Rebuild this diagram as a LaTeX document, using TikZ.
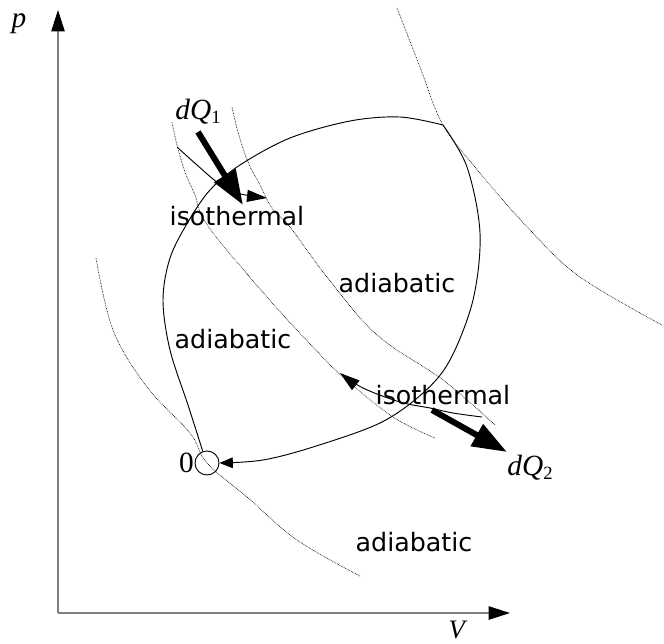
\documentclass[tikz,border=0pt]{standalone}
\usepackage{fontspec}
\setmainfont{Liberation Serif}
\newfontfamily\labelfont{DejaVu Sans}
\usetikzlibrary{arrows.meta}

\begin{document}
\begin{tikzpicture}[
		x=0.75pt, y=-0.75pt,
		% --- STYLES OF THE LINES ---
		axis/.style = {draw=black!50, line width=1pt, -{Triangle[length=16pt, width=10pt, color=black]}},
		cycleline/.style = {draw=black, line width=0.7pt},
		adiab/.style = {draw=black, dash pattern=on 0.5pt off 0.7pt, line width=0.5pt},
		heat/.style = {line width=4.5pt, -{Triangle[length=26pt, width=18pt]}},
		isoarrow/.style = {line width=0.7pt, -{Triangle[length=15pt, width=9pt]}},
		% --- STYLES OF THE TEXTS ---
		procname/.style = {font=\labelfont\fontsize{19}{19}\selectfont, inner sep=0pt},
		sym/.style = {font=\fontsize{22}{22}\selectfont, inner sep=0pt},
		state/.style = {circle, draw, line width=0.7pt, minimum size=18pt, inner sep=0pt}
		]
		
		\useasboundingbox (0,0) rectangle (664,643);
		
		% =========================================================================
		% 1. AXES
		% =========================================================================
		\coordinate (origin) at (58,613);
		\coordinate (ptop) at (58,10);
		\coordinate (vend) at (510,613);
		\draw [axis] (origin) -- (ptop);
		\draw [axis] (origin) -- (vend);
		\node [sym] (plabel) at (19,24) {\textit{p}};
		\node [sym, font=\fontsize{20}{20}\selectfont] (vlabel) at (458,630) {\textit{V}};
		
		% =========================================================================
		% 2. DOTTED CURVES
		% =========================================================================
		\draw [adiab] plot[smooth, tension=0.6] coordinates {(96,258) (113,330) (147,387) (190,433) (207,463) (247,497) (297,540) (360,576)};
		\draw [adiab] plot[smooth, tension=0.6] coordinates {(172,122) (177,145) (185,172) (195,195) (208,226) (267,297) (313,347) (343,377) (393,417) (435,438)};
		\draw [adiab] plot[smooth, tension=0.6] coordinates {(232,107) (238,132) (248,162) (260,185) (272,208) (290,227) (327,277) (377,335) (443,380) (495,425)};
		\draw [adiab] plot[smooth, tension=0.6] coordinates {(397,8) (420,67) (443,125) (480,173) (530,230) (580,277) (662,325)};
		
		% =========================================================================
		% 3. CYCLE
		% =========================================================================
		\node [state] (state0) at (207,463) {};
		\node [sym, anchor=east] (zero) at (194,463) {0};
		\coordinate (corner) at (443,125);
		
		\draw [cycleline] plot[smooth, tension=0.55] coordinates {(state0.110) (188,405) (170,350) (163,300) (170,258) (188,222) (210,190) (240,165) (290,138) (350,121) (400,117) (corner)};
		\draw [cycleline, -{Triangle[length=10pt, width=8pt]}] plot[smooth, tension=0.55] coordinates {(corner) (467,167) (480,233) (473,300) (450,360) (423,393) (380,423) (313,447) (263,460) (state0.east)};
		
		% =========================================================================
		% 4. ISOTHERMS AND HEAT
		% =========================================================================
		\draw [isoarrow] plot[smooth, tension=0.6] coordinates {(177,147) (197,165) (217,182) (237,193) (267,198)};
		\draw [isoarrow] plot[smooth, tension=0.6] coordinates {(482,417) (453,413) (430,408) (400,402) (363,388) (340,373)};
		
		\node [sym] (dq1) at (198,112) {\textit{dQ}\raisebox{-0.3ex}{\fontsize{14}{14}\selectfont 1}};
		\node [sym] (dq2) at (530,468) {\textit{dQ}\raisebox{-0.3ex}{\fontsize{14}{14}\selectfont 2}};
		\coordinate (q1tail) at (198,132);
		\coordinate (q1tip) at (243,205);
		\coordinate (q2tail) at (432,410);
		\coordinate (q2tip) at (507,452);
		\draw [heat] (q1tail) -- (q1tip);
		\draw [heat] (q2tail) -- (q2tip);
		
		% --- labels ---
		\node [procname] (iso1) at (237,216) {isothermal};
		\node [procname] (iso2) at (443,395) {isothermal};
		\node [procname] (adia1) at (397,283) {adiabatic};
		\node [procname] (adia2) at (233,339) {adiabatic};
		\node [procname] (adia3) at (414,542) {adiabatic};
		
	\end{tikzpicture}
\end{document}
